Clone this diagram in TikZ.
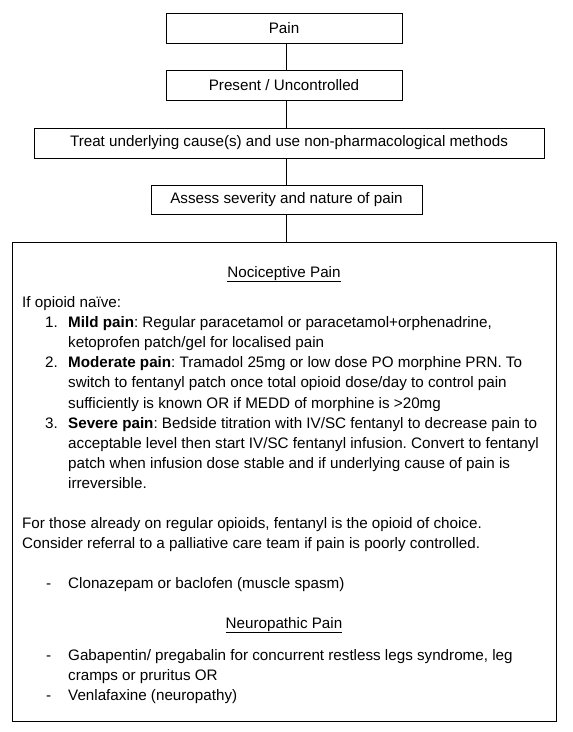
\documentclass[tikz,border=0pt]{standalone}
\usepackage{fontspec}
\setmainfont{Liberation Sans}
\usetikzlibrary{positioning}
\frenchspacing

\begin{document}
\begin{tikzpicture}[x=1pt, y=-1pt,
    stepbox/.style={draw, line width=0.9pt, minimum height=30pt, inner sep=0pt, font=\fontsize{15.2}{20}\selectfont},
    planbox/.style={draw, line width=0.9pt, inner sep=0pt, anchor=north west},
    link/.style={line width=0.9pt},
    bodyline/.style={anchor=base west, inner sep=0pt, font=\fontsize{15.2}{20}\selectfont},
    headline/.style={anchor=base, inner sep=0pt, font=\fontsize{15.2}{20}\selectfont}
]
    \useasboundingbox (0,0) rectangle (573,732);

    \node[stepbox, minimum width=236pt] (pain) at (284,28) {Pain};
    \node[stepbox, minimum width=236pt] (present) at (284,85) {Present / Uncontrolled};
    \node[stepbox, minimum width=510pt] (treat) at (289,143) {Treat underlying cause(s) and use non-pharmacological methods};
    \node[stepbox, minimum width=271pt, minimum height=29pt] (assess) at (286.5,199.5) {Assess severity and nature of pain};
    \node[planbox, minimum width=544pt, minimum height=479pt] (plan) at (12,242) {};
    \coordinate (spine) at (286,0);

    \draw[link] (pain.south -| spine) -- (present.north -| spine);
    \draw[link] (present.south -| spine) -- (treat.north -| spine);
    \draw[link] (treat.south -| spine) -- (assess.north -| spine);
    \draw[link] (assess.south -| spine) -- (plan.north -| spine);

    % nociceptive pain
    \node[headline] (nocihead) at (284,277) {\underline{Nociceptive Pain}};
    \node[bodyline] (naive) at (22,307) {If opioid naïve:};
    \node[bodyline] (mildnum) at (45,327) {1.};
    \node[bodyline] (milda) at (68,327) {\textbf{Mild pain}: Regular paracetamol or paracetamol+orphenadrine,};
    \node[bodyline] (mildb) at (68,347) {ketoprofen patch/gel for localised pain};
    \node[bodyline] (modnum) at (45,367) {2.};
    \node[bodyline] (moda) at (68,367) {\textbf{Moderate pain}: Tramadol 25mg or low dose PO morphine PRN. To};
    \node[bodyline] (modb) at (68,387) {switch to fentanyl patch once total opioid dose/day to control pain};
    \node[bodyline] (modc) at (68,408) {sufficiently is known OR if MEDD of morphine is >20mg};
    \node[bodyline] (sevnum) at (45,428) {3.};
    \node[bodyline] (seva) at (68,428) {\textbf{Severe pain}: Bedside titration with IV/SC fentanyl to decrease pain to};
    \node[bodyline] (sevb) at (68,448) {acceptable level then start IV/SC fentanyl infusion. Convert to fentanyl};
    \node[bodyline] (sevc) at (68,468) {patch when infusion dose stable and if underlying cause of pain is};
    \node[bodyline] (sevd) at (68,488) {irreversible.};
    \node[bodyline] (regular) at (22,528) {For those already on regular opioids, fentanyl is the opioid of choice.};
    \node[bodyline] (referral) at (22,548) {Consider referral to a palliative care team if pain is poorly controlled.};
    \node[bodyline] (spasmdash) at (46,588) {-};
    \node[bodyline] (spasm) at (68,588) {Clonazepam or baclofen (muscle spasm)};

    % neuropathic pain
    \node[headline] (neurohead) at (284,628) {\underline{Neuropathic Pain}};
    \node[bodyline] (gabadash) at (46,660) {-};
    \node[bodyline] (gabaa) at (68,660) {Gabapentin/ pregabalin for concurrent restless legs syndrome, leg};
    \node[bodyline] (gabab) at (68,680) {cramps or pruritus OR};
    \node[bodyline] (venladash) at (46,700) {-};
    \node[bodyline] (venla) at (68,700) {Venlafaxine (neuropathy)};
\end{tikzpicture}
\end{document}
